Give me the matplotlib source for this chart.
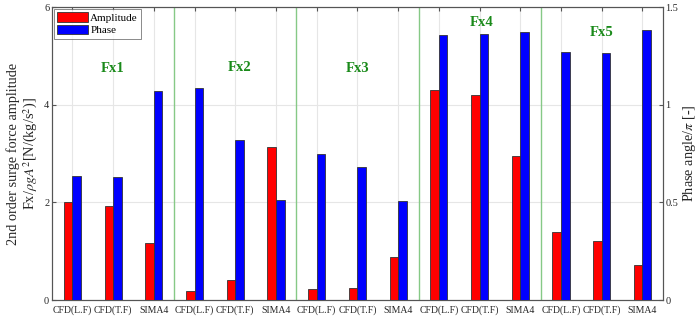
import numpy as np
import matplotlib
matplotlib.use("Agg")
import matplotlib.pyplot as plt
from matplotlib.patches import Patch

plt.rcParams['font.family'] = ['Liberation Serif', 'DejaVu Serif']
plt.rcParams['mathtext.fontset'] = 'stix'

# data
methods = ["CFD(L.F)", "CFD(T.F)", "SIMA4"] * 5
groups = ["Fx1", "Fx2", "Fx3", "Fx4", "Fx5"]
amplitude = [2.00, 1.93, 1.17,
             0.18, 0.40, 3.14,
             0.23, 0.245, 0.89,
             4.31, 4.20, 2.95,
             1.39, 1.21, 0.72]
phase = [0.635, 0.63, 1.07,
         1.085, 0.82, 0.51,
         0.747, 0.68, 0.505,
         1.357, 1.363, 1.37,
         1.268, 1.265, 1.383]
group_x = [2.0, 5.1, 8.0, 11.05, 14.0]
group_y = [4.75, 4.77, 4.74, 5.68, 5.47]

fig = plt.figure(figsize=(6.97, 3.21), dpi=100)
ax = fig.add_axes([0.0746, 0.0654, 0.8764, 0.9126])
ax2 = ax.twinx()

x = np.arange(1, len(methods) + 1)
w = 0.21
ax.bar(x - w / 2, amplitude, w, color='#ff0000', edgecolor='#333333', linewidth=0.6, zorder=3)
ax2.bar(x + w / 2, phase, w, color='#0000ff', edgecolor='#333333', linewidth=0.6, zorder=3)

ax.set_xlim(0.5, len(methods) + 0.5)
ax.set_ylim(0, 6)
ax2.set_ylim(0, 1.5)
ax.set_xticks(x)
ax.set_xticklabels(methods, fontsize=7.0)
ax.set_yticks([0, 2, 4, 6])
ax2.set_yticks([0, 0.5, 1, 1.5])
ax2.set_yticklabels(["0", "0.5", "1", "1.5"])

ax.grid(True, color='#e6e6e6', linewidth=0.8, zorder=0)
ax.set_axisbelow(True)
ax.tick_params(axis='x', direction='in', top=True, length=3, colors='#555555',
               labelcolor='#262626', pad=4)
ax.tick_params(axis='y', direction='in', length=3, labelsize=7.4, colors='#555555',
               labelcolor='#262626', pad=2)
ax2.tick_params(axis='y', direction='in', length=3, labelsize=7.4, colors='#555555',
                labelcolor='#262626', pad=2)
for a in (ax, ax2):
    for s in a.spines.values():
        s.set_color('#555555')
        s.set_linewidth(0.8)

for sep in [3.5, 6.5, 9.5, 12.5]:
    ax.axvline(sep, color='#86c986', linewidth=1.0, zorder=2)

for name, gx, gy in zip(groups, group_x, group_y):
    ax.text(gx, gy, name, color='#1a8a1a', fontsize=10.5, fontweight='bold',
            ha='center', va='center', zorder=5)

ax.set_ylabel("2nd order surge force amplitude\nFx/$\\rho g A^2$[N/(kg/s$^2$)]",
              fontsize=10.3, color='#262626', labelpad=3, linespacing=1.1)
ax2.set_ylabel("Phase angle/$\\pi$ [-]", fontsize=10.3, color='#262626', labelpad=2)

handles = [Patch(facecolor='#ff0000', edgecolor='#333333', linewidth=0.6),
           Patch(facecolor='#0000ff', edgecolor='#333333', linewidth=0.6)]
leg = ax2.legend(handles, ["Amplitude", "Phase"], loc='upper left', fontsize=8,
                 frameon=True, fancybox=False, edgecolor='#555555',
                 borderaxespad=0.15, handlelength=2.8, handleheight=1.0,
                 labelspacing=0.15, borderpad=0.3, handletextpad=0.2)
leg.get_frame().set_linewidth(0.6)

fig.savefig("out.png", dpi=100)
